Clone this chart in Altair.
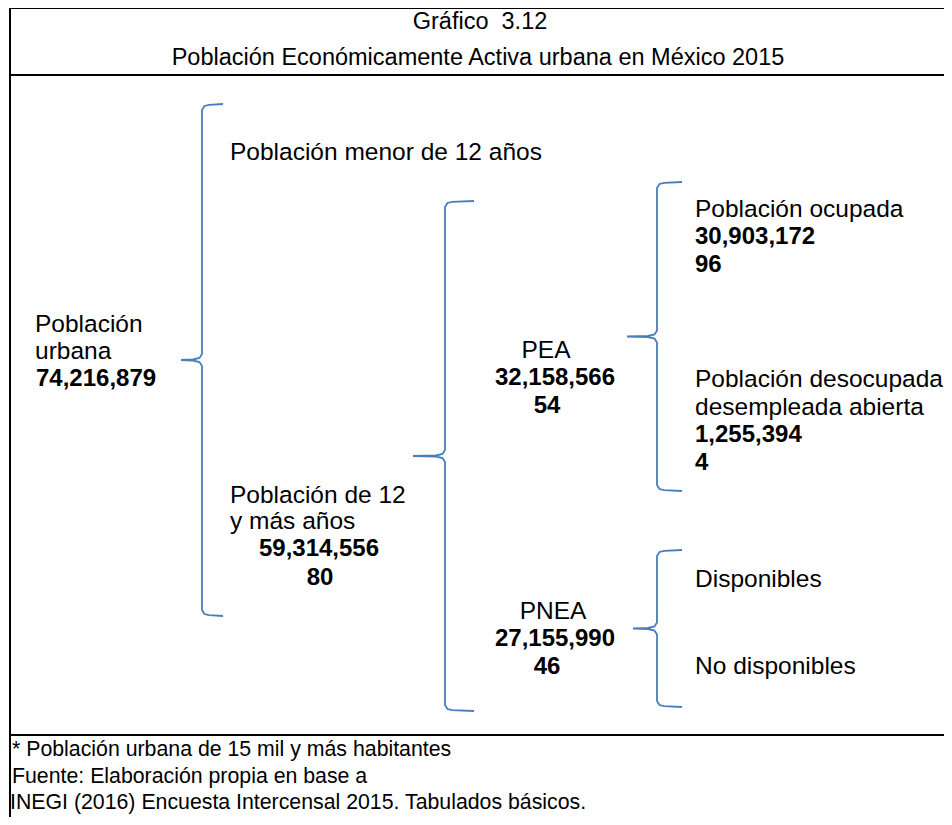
import altair as alt
import pandas as pd

# ---------------- content (text values) ----------------
title = "Gráfico\u00a0 3.12"
subtitle = "Población Económicamente Activa urbana en México 2015"
total_label = ["Población", "urbana"]
total_value = "74,216,879"
under12_label = "Población menor de 12 años"
over12_label = ["Población de 12", "y más años"]
over12_value = "59,314,556"
over12_pct = "80"
pea_label = "PEA"
pea_value = "32,158,566"
pea_pct = "54"
pnea_label = "PNEA"
pnea_value = "27,155,990"
pnea_pct = "46"
ocup_label = "Población ocupada"
ocup_value = "30,903,172"
ocup_pct = "96"
desoc_label = ["Población desocupada", "desempleada abierta"]
desoc_value = "1,255,394"
desoc_pct = "4"
pnea_sub = ["Disponibles", "No disponibles"]
footnotes = [
    "* Población urbana de 15 mil y más habitantes",
    "Fuente: Elaboración propia en base a",
    "INEGI (2016) Encuesta Intercensal 2015. Tabulados básicos.",
]

# ---------------- layout (page pixel coordinates) ----------------
W, H, M = 952, 825, 8
PW, PH = W - 2 * M, H - 2 * M          # drawable area 936 x 809
FONT = "Liberation Sans"
BODY = 24.5
BOLD = 24
FOOT = 21.3
TITLE = 23.5

rows = []
def put(text, x, y, align="left", weight="normal", size=None):
    if size is None:
        size = BOLD if weight == "bold" else BODY
    rows.append(dict(label=text, px=x, py=y, al=align, wt=weight, fs=size))

put(title, 480, 22, "center", size=TITLE)
put(subtitle, 478, 58, "center", size=TITLE)
put(total_label[0], 35, 325)
put(total_label[1], 35, 352)
put(total_value, 36, 379, weight="bold")
put(under12_label, 230, 153)
put(over12_label[0], 230, 496)
put(over12_label[1], 230, 522)
put(over12_value, 319, 549, "center", "bold")
put(over12_pct, 320, 578, "center", "bold")
put(pea_label, 546, 351, "center")
put(pea_value, 555, 378, "center", "bold")
put(pea_pct, 547, 406, "center", "bold")
put(pnea_label, 553, 612, "center")
put(pnea_value, 555, 639, "center", "bold")
put(pnea_pct, 547, 667, "center", "bold")
put(ocup_label, 695, 210)
put(ocup_value, 695, 237, weight="bold")
put(ocup_pct, 695, 265, weight="bold")
put(desoc_label[0], 695, 380)
put(desoc_label[1], 695, 408)
put(desoc_value, 695, 435, weight="bold")
put(desoc_pct, 695, 463, weight="bold")
put(pnea_sub[0], 695, 580)
put(pnea_sub[1], 695, 667)
for i, t in enumerate(footnotes):
    put(t, [12, 12, 10][i], [750, 777, 803][i], size=FOOT)
text_df = pd.DataFrame(rows)

# frame lines
hlines = pd.DataFrame(dict(px=[10, 10, 10], px2=[W, W, W], py=[8, 75, 735]))
vlines = pd.DataFrame(dict(px=[10], py=[8], py2=[H]))

# braces: (vertical x, tip x, end x, top, bottom)
braces = [
    (202, 181, 223, 104, 616),
    (445, 413, 474, 201, 711),
    (657, 627, 682, 182, 491),
    (657, 633, 682, 550, 707),
]
brows = []
for b, (x, tip, end, top, bot) in enumerate(braces):
    mid = (top + bot) / 2
    pts = [
        (end, top), (x + 7, top + 0.8), (x + 2.5, top + 2), (x, top + 6),
        (x, mid - 6), (x - 2.5, mid - 2), (x - 9, mid - 0.5), (tip, mid),
        (x - 9, mid + 0.5), (x - 2.5, mid + 2), (x, mid + 6),
        (x, bot - 6), (x + 2.5, bot - 2), (x + 7, bot - 0.8), (end, bot),
    ]
    for k, (px, py) in enumerate(pts):
        brows.append(dict(brace=b, k=k, px=px, py=py))
brace_df = pd.DataFrame(brows)

xs = alt.Scale(domain=[M, M + PW], range=[0, PW], nice=False, zero=False, clamp=False)
ys = alt.Scale(domain=[M, M + PH], range=[0, PH], nice=False, zero=False, clamp=False)

def X(f="px"):
    return alt.X(f, type="quantitative", scale=xs, axis=None)

def Y(f="py"):
    return alt.Y(f, type="quantitative", scale=ys, axis=None)

layers = []
layers.append(alt.Chart(hlines).mark_rule(color="black", strokeWidth=2).encode(
    x=X(), x2="px2:Q", y=Y()))
layers.append(alt.Chart(vlines).mark_rule(color="black", strokeWidth=2).encode(
    x=X(), y=Y(), y2="py2:Q"))
layers.append(alt.Chart(brace_df).mark_line(color="#4a7ebb", strokeWidth=1.8).encode(
    x=X(), y=Y(), detail="brace:N", order="k:Q"))

for (al, wt, fs), sub in text_df.groupby(["al", "wt", "fs"]):
    layers.append(alt.Chart(sub.reset_index(drop=True)).mark_text(
        align=al, baseline="middle", font=FONT, fontWeight=wt,
        fontSize=float(fs), color="black"
    ).encode(x=X(), y=Y(), text="label:N"))

chart = alt.layer(*layers).properties(
    width=PW, height=PH, padding=0,
    autosize=alt.AutoSizeParams(type="none"),
    background="white",
).configure_view(stroke=None)

chart.save("out.html", embed_options={"renderer": "svg", "actions": False})
